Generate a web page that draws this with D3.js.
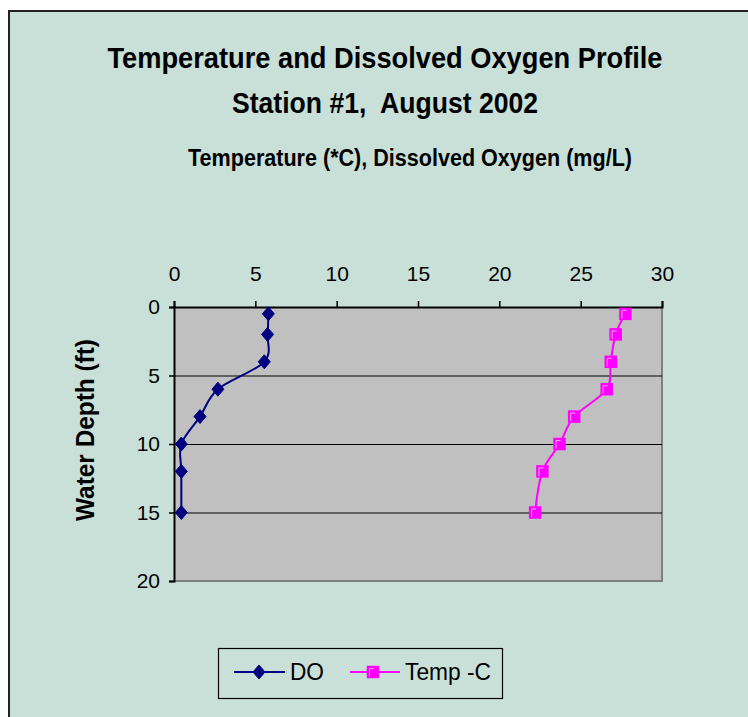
<!DOCTYPE html>
<html>
<head>
<meta charset="utf-8">
<script src="https://cdn.jsdelivr.net/npm/d3@7"></script>
<style>
  html, body { margin: 0; padding: 0; background: #ffffff; }
  svg { display: block; }
  text { font-family: "Liberation Sans", Arial, sans-serif; fill: #000; white-space: pre; }
</style>
</head>
<body>
<div id="chart"></div>
<script>
// Depth of each sample (ft)
const depths = [0.5, 2, 4, 6, 8, 10, 12, 15];
// Dissolved oxygen at each depth (mg/L)
const doValues = [5.8, 5.75, 5.55, 2.7, 1.6, 0.45, 0.45, 0.45];
// Water temperature at each depth (°C)
const tempValues = [27.75, 27.15, 26.85, 26.6, 24.6, 23.7, 22.65, 22.2];

const xTicks = [0, 5, 10, 15, 20, 25, 30];
const yTicks = [0, 5, 10, 15, 20];
const gridDepths = [5, 10, 15];

const seriesNames = ["DO", "Temp -C"];
const titleLines = ["Temperature and Dissolved Oxygen Profile", "Station #1,  August 2002"];
const axisTitleX = "Temperature (*C), Dissolved Oxygen (mg/L)";
const axisTitleY = "Water Depth (ft)";

const W = 748, H = 717;
const bg = "#c9e0d8";
const doColor = "#000080";
const tempColor = "#ff00ff";

const svg = d3.select("#chart").append("svg")
  .attr("width", W).attr("height", H);

// chart area background with its frame
svg.append("rect").attr("x", 0).attr("y", 0).attr("width", W).attr("height", H).attr("fill", "#ffffff");
svg.append("rect").attr("x", 9).attr("y", 11).attr("width", W + 10).attr("height", H + 10)
  .attr("fill", bg).attr("stroke", "#222").attr("stroke-width", 2);

const plot = { left: 174, right: 662, top: 307, bottom: 581 };

const x = d3.scaleLinear().domain([0, 30]).range([plot.left, plot.right]);
const y = d3.scaleLinear().domain([0, 20]).range([plot.top, plot.bottom]);

// plot area
svg.append("rect")
  .attr("x", plot.left).attr("y", plot.top)
  .attr("width", plot.right - plot.left).attr("height", plot.bottom - plot.top)
  .attr("fill", "#c0c0c0");
// grey edge on the right and bottom
svg.append("path")
  .attr("d", `M${plot.right},${plot.top}V${plot.bottom}H${plot.left}`)
  .attr("fill", "none").attr("stroke", "#808080").attr("stroke-width", 2);

// horizontal gridlines
svg.append("g").selectAll("line").data(gridDepths).join("line")
  .attr("x1", plot.left).attr("x2", plot.right)
  .attr("y1", d => y(d) + 0.5).attr("y2", d => y(d) + 0.5)
  .attr("stroke", "#000").attr("stroke-width", 1.2);

// top axis
const gx = svg.append("g").attr("transform", `translate(0,${plot.top})`)
  .call(d3.axisTop(x).tickValues(xTicks).tickSize(6).tickPadding(20).tickFormat(d3.format("d")));
gx.select(".domain").attr("stroke", "#000").attr("stroke-width", 2);
gx.selectAll(".tick line").attr("stroke", "#000").attr("stroke-width", 1.5);
gx.selectAll(".tick text").style("font-size", "21px").attr("font-family", "Liberation Sans, Arial, sans-serif");

// left axis
const gy = svg.append("g").attr("transform", `translate(${plot.left},0)`)
  .call(d3.axisLeft(y).tickValues(yTicks).tickSize(5).tickPadding(9).tickFormat(d3.format("d")));
gy.select(".domain").attr("stroke", "#000").attr("stroke-width", 2);
gy.selectAll(".tick line").attr("stroke", "#000").attr("stroke-width", 1.5);
gy.selectAll(".tick text").style("font-size", "21px").attr("font-family", "Liberation Sans, Arial, sans-serif");

// titles
svg.append("text").attr("x", 385).attr("y", 68).attr("text-anchor", "middle")
  .attr("font-weight", "bold").style("font-size", "30px")
  .attr("textLength", 555).attr("lengthAdjust", "spacingAndGlyphs")
  .text(titleLines[0]);
svg.append("text").attr("x", 385).attr("y", 113).attr("text-anchor", "middle")
  .attr("font-weight", "bold").style("font-size", "30px")
  .attr("textLength", 306).attr("lengthAdjust", "spacingAndGlyphs")
  .text(titleLines[1]);
svg.append("text").attr("x", 410).attr("y", 166).attr("text-anchor", "middle")
  .attr("font-weight", "bold").style("font-size", "23px")
  .attr("textLength", 444).attr("lengthAdjust", "spacingAndGlyphs")
  .text(axisTitleX);
svg.append("text").attr("transform", "translate(94,430) rotate(-90)").attr("text-anchor", "middle")
  .attr("font-weight", "bold").style("font-size", "25px")
  .attr("textLength", 182).attr("lengthAdjust", "spacingAndGlyphs")
  .text(axisTitleY);

// series
const line = d3.line().curve(d3.curveCatmullRom.alpha(0));

const doPts = depths.map((d, i) => [x(doValues[i]), y(d)]);
const tempPts = depths.map((d, i) => [x(tempValues[i]), y(d)]);

svg.append("path").attr("d", line(doPts)).attr("fill", "none")
  .attr("stroke", doColor).attr("stroke-width", 2);
svg.append("path").attr("d", line(tempPts)).attr("fill", "none")
  .attr("stroke", tempColor).attr("stroke-width", 2);

const diamond = (cx, cy, r) => `M${cx},${cy - r - 1}L${cx + r},${cy}L${cx},${cy + r + 1}L${cx - r},${cy}Z`;

function drawDiamond(g, cx, cy) {
  g.append("path").attr("d", diamond(cx, cy, 6)).attr("fill", doColor).attr("stroke", doColor).attr("stroke-width", 1);
}
function drawSquare(g, cx, cy) {
  g.append("rect").attr("x", cx - 5.5).attr("y", cy - 5.5).attr("width", 11).attr("height", 11)
    .attr("fill", tempColor).attr("stroke", tempColor).attr("stroke-width", 1.5);
  g.append("path").attr("d", `M${cx - 3.5},${cy + 4.5}V${cy - 3.5}H${cx + 1}`)
    .attr("fill", "none").attr("stroke", "#ffa8ff").attr("stroke-width", 1);
}

const mk = svg.append("g");
doPts.forEach(p => drawDiamond(mk, p[0], p[1]));
tempPts.forEach(p => drawSquare(mk, p[0], p[1]));

// legend
const lg = svg.append("g");
lg.append("rect").attr("x", 218.5).attr("y", 648.5).attr("width", 284).attr("height", 50)
  .attr("fill", bg).attr("stroke", "#000").attr("stroke-width", 1.2);
lg.append("line").attr("x1", 234).attr("x2", 285).attr("y1", 672).attr("y2", 672)
  .attr("stroke", doColor).attr("stroke-width", 2);
drawDiamond(lg, 259, 672);
lg.append("text").attr("x", 290).attr("y", 680).style("font-size", "24px")
  .attr("textLength", 34).attr("lengthAdjust", "spacingAndGlyphs").text(seriesNames[0]);
lg.append("line").attr("x1", 350).attr("x2", 400).attr("y1", 672).attr("y2", 672)
  .attr("stroke", tempColor).attr("stroke-width", 2);
drawSquare(lg, 373, 672);
lg.append("text").attr("x", 405).attr("y", 680).style("font-size", "24px")
  .attr("textLength", 86).attr("lengthAdjust", "spacingAndGlyphs").text(seriesNames[1]);
</script>
</body>
</html>
